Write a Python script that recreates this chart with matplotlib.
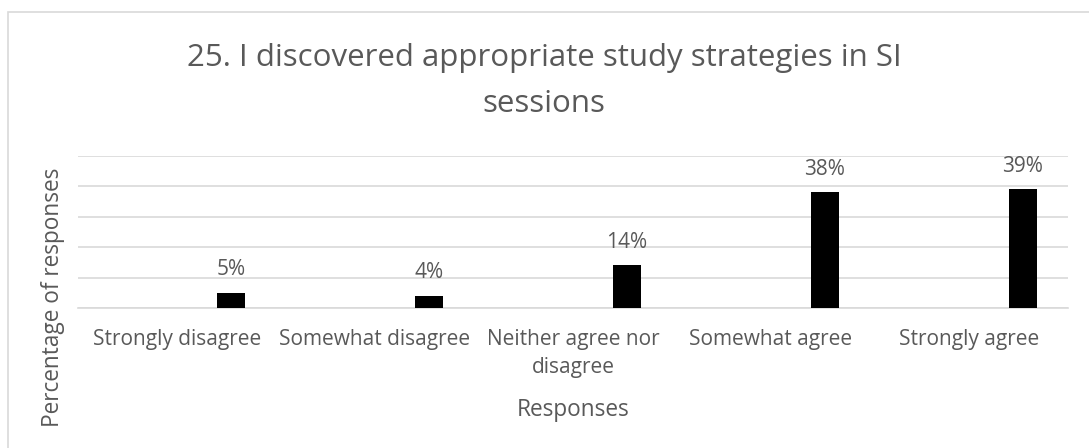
import matplotlib
matplotlib.use("Agg")
import matplotlib.pyplot as plt
from matplotlib.patches import Rectangle

# Survey responses for question 25
categories = ["Strongly disagree", "Somewhat disagree", "Neither agree nor\ndisagree",
              "Somewhat agree", "Strongly agree"]
percentages = [5, 4, 14, 38, 39]
labels = ["5%", "4%", "14%", "38%", "39%"]

plt.rcParams['font.family'] = ['Open Sans', 'DejaVu Sans']
text_color = '#595959'
grid_color = '#d9d9d9'

fig = plt.figure(figsize=(10.89, 4.48), dpi=100)
ax = fig.add_axes([0.0716, 0.3125, 0.909, 0.3393])

# thin grey frame around the chart area
fig.patches.append(Rectangle((7.5 / 1089, -0.1), 1.2, (448 - 12.5) / 448 + 0.1,
                             transform=fig.transFigure, fill=False,
                             edgecolor=grid_color, linewidth=1.2))

x = list(range(len(categories)))
bar_x = [i + 0.273 for i in x]
bars = ax.bar(bar_x, percentages, width=0.14, color='black', zorder=3)

for b, lab in zip(bars, labels):
    ax.annotate(lab, (b.get_x() + b.get_width() / 2, b.get_height()),
                xytext=(0, 9), textcoords='offset points',
                ha='center', va='bottom', fontsize=15, color=text_color)

ax.set_xlim(-0.5, 4.5)
ax.set_ylim(0, 50)
ax.set_yticks([0, 10, 20, 30, 40, 50])
ax.set_yticklabels([])
ax.tick_params(axis='y', length=0)
ax.grid(axis='y', color=grid_color, linewidth=1.2, zorder=0)

ax.set_xticks(x)
ax.set_xticklabels(categories, fontsize=15, color=text_color, linespacing=1.42)
ax.tick_params(axis='x', length=0, pad=15)

for s in ['top', 'right', 'left']:
    ax.spines[s].set_visible(False)
ax.spines['bottom'].set_color(grid_color)
ax.spines['bottom'].set_linewidth(1.2)

ax.set_xlabel("Responses", fontsize=16.3, color=text_color, labelpad=15)
fig.text(53 / 1089, 1 - 297 / 448, "Percentage of responses", rotation=90,
         ha='center', va='center', fontsize=16.3, color=text_color)

fig.text(0.4995, 1 - 43 / 448, "25. I discovered appropriate study strategies in SI\nsessions",
         ha='center', va='top', fontsize=22.5, color=text_color, linespacing=1.68)

fig.savefig("out.png", dpi=100)
